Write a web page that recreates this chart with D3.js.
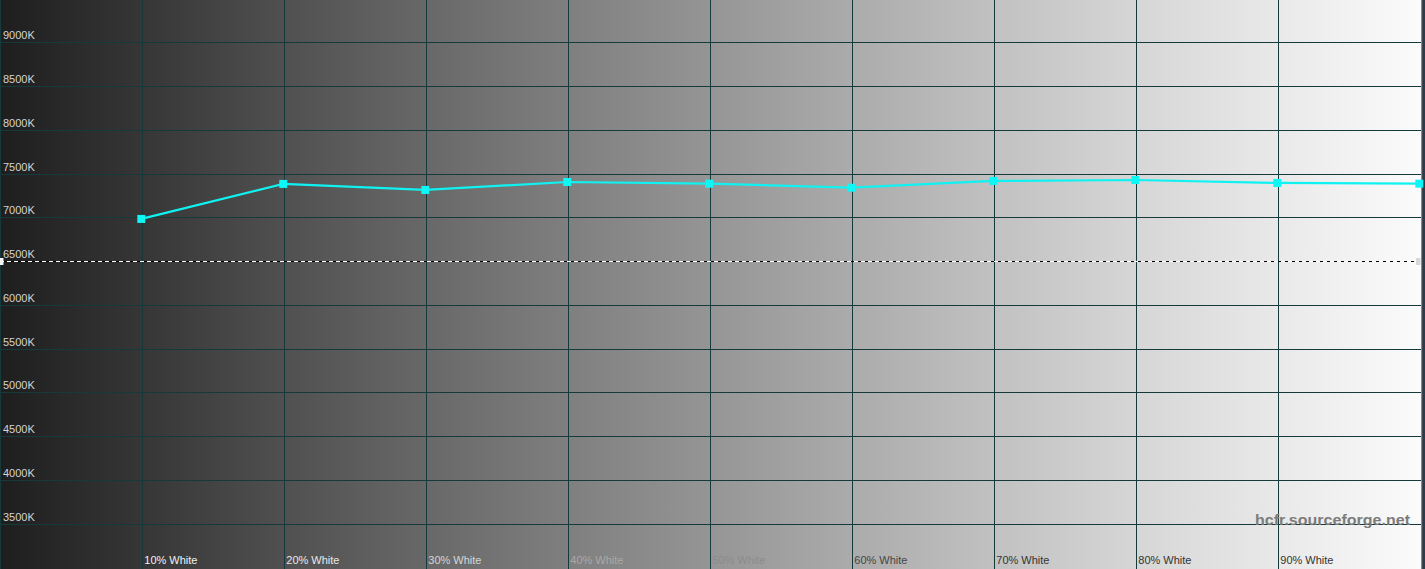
<!DOCTYPE html>
<html>
<head>
<meta charset="utf-8">
<script src="https://cdn.jsdelivr.net/npm/d3@7"></script>
<style>
  html, body { margin: 0; padding: 0; background: #1e1e1e; overflow: hidden; }
  svg { display: block; }
</style>
</head>
<body>
<svg id="chart"></svg>
<script>
// grey steps measured at 10% White ... 100% White
const steps = [10, 20, 30, 40, 50, 60, 70, 80, 90, 100];
const colorTemp = [6981, 7381, 7312, 7403, 7384, 7338, 7415, 7426, 7392, 7384];
const stepLabels = ["10% White", "20% White", "30% White", "40% White", "50% White",
  "60% White", "70% White", "80% White", "90% White"];
const tempTicks = [3500, 4000, 4500, 5000, 5500, 6000, 6500, 7000, 7500, 8000, 8500, 9000];
const referenceTemp = 6500;

const W = 1425, H = 569;
const svg = d3.select("#chart").attr("width", W).attr("height", H);

const x = d3.scaleLinear().domain([0, 100]).range([0.3, 1420.3]);
const y = d3.scaleLinear().domain([3000, 9500]).range([567.3, -1.5]);

// background: grey ramp from black-ish to white across the steps
const defs = svg.append("defs");
const grad = defs.append("linearGradient")
  .attr("id", "ramp")
  .attr("gradientUnits", "userSpaceOnUse")
  .attr("x1", 0).attr("x2", x(100)).attr("y1", 0).attr("y2", 0);
const greys = ["#1e1e1e", "#363636", "#505050", "#686868", "#7f7f7f", "#959595",
  "#ababab", "#c1c1c1", "#d6d6d6", "#e9e9e9", "#fbfbfb"];
greys.forEach((c, i) => {
  grad.append("stop").attr("offset", i / 10).attr("stop-color", c);
});

svg.append("rect")
  .attr("x", 0).attr("y", 0)
  .attr("width", 1421).attr("height", H)
  .attr("fill", "url(#ramp)");

// right frame
svg.append("rect").attr("x", 1421).attr("y", 0).attr("width", 1.5).attr("height", H).attr("fill", "#8a8a8a");
svg.append("rect").attr("x", 1422.5).attr("y", 0).attr("width", 3).attr("height", H).attr("fill", "#2b3c4c");

const gridColor = "#143a3c";

// horizontal grid (except the reference line, which is dashed)
svg.append("g")
  .selectAll("line")
  .data(tempTicks.filter(t => t !== referenceTemp))
  .enter().append("line")
  .attr("x1", 0).attr("x2", 1421)
  .attr("y1", d => Math.round(y(d)) + 0.5)
  .attr("y2", d => Math.round(y(d)) + 0.5)
  .attr("stroke", gridColor)
  .attr("stroke-width", 1);

// vertical grid
svg.append("g")
  .selectAll("line")
  .data([0].concat(steps.slice(0, 9)))
  .enter().append("line")
  .attr("x1", d => Math.round(x(d)) + 0.5)
  .attr("x2", d => Math.round(x(d)) + 0.5)
  .attr("y1", 0).attr("y2", H)
  .attr("stroke", gridColor)
  .attr("stroke-width", 1);

// 6500K reference: black/white alternating dashes so it shows on any grey
const yRef = Math.round(y(referenceTemp)) + 0.5;
svg.append("line")
  .attr("x1", 0).attr("x2", 1416)
  .attr("y1", yRef).attr("y2", yRef)
  .attr("stroke", "#000000")
  .attr("stroke-width", 1)
  .attr("stroke-dasharray", "4,3")
  .attr("stroke-dashoffset", 4);
svg.append("line")
  .attr("x1", 0).attr("x2", 1416)
  .attr("y1", yRef).attr("y2", yRef)
  .attr("stroke", "#ffffff")
  .attr("stroke-width", 1)
  .attr("stroke-dasharray", "4,3");
svg.append("rect").attr("x", 0).attr("y", yRef - 3.5).attr("width", 3.5).attr("height", 7).attr("fill", "#f4f4f4");
svg.append("rect").attr("x", 1416).attr("y", yRef - 3.5).attr("width", 4.5).attr("height", 7).attr("fill", "#d8d8d8");

// y labels
svg.append("g")
  .selectAll("text")
  .data(tempTicks)
  .enter().append("text")
  .attr("x", 3)
  .attr("y", d => y(d) - 3)
  .text(d => d + "K")
  .style("fill", "#d4d4d4")
  .style("font-family", "Arial, 'Liberation Sans', sans-serif")
  .style("font-size", "11px");

// x labels; colour flips as the grey behind gets lighter
const labelColor = i => ["#f2f2f2", "#e8e8e8", "#d6d6d6", "#a9a9a9", "#8c8c8c",
  "#464646", "#333333", "#333333", "#333333"][i];
svg.append("g")
  .selectAll("text")
  .data(stepLabels)
  .enter().append("text")
  .attr("x", (d, i) => x(steps[i]) + 2)
  .attr("y", 564)
  .text(d => d)
  .style("fill", (d, i) => labelColor(i))
  .style("font-family", "Arial, 'Liberation Sans', sans-serif")
  .style("font-size", "11px");

// watermark
svg.append("text")
  .attr("x", 1255)
  .attr("y", 525)
  .attr("textLength", 155)
  .attr("lengthAdjust", "spacingAndGlyphs")
  .text("hcfr.sourceforge.net")
  .style("fill", "#7c7c7c")
  .style("font-family", "Arial, 'Liberation Sans', sans-serif")
  .style("font-weight", "bold")
  .style("font-size", "15px");

// measured colour temperature
const pts = steps.map((s, i) => ({ step: s, temp: colorTemp[i] }));
const line = d3.line()
  .x(d => x(d.step) - 1)
  .y(d => y(d.temp));

svg.append("path")
  .datum(pts)
  .attr("d", line)
  .attr("fill", "none")
  .attr("stroke", "#10f2f2")
  .attr("stroke-width", 2.2);

svg.append("g")
  .selectAll("rect")
  .data(pts)
  .enter().append("rect")
  .attr("x", d => x(d.step) - 1 - 4)
  .attr("y", d => y(d.temp) - 4)
  .attr("width", 8)
  .attr("height", 8)
  .attr("fill", "#0ff6f6");
</script>
</body>
</html>
